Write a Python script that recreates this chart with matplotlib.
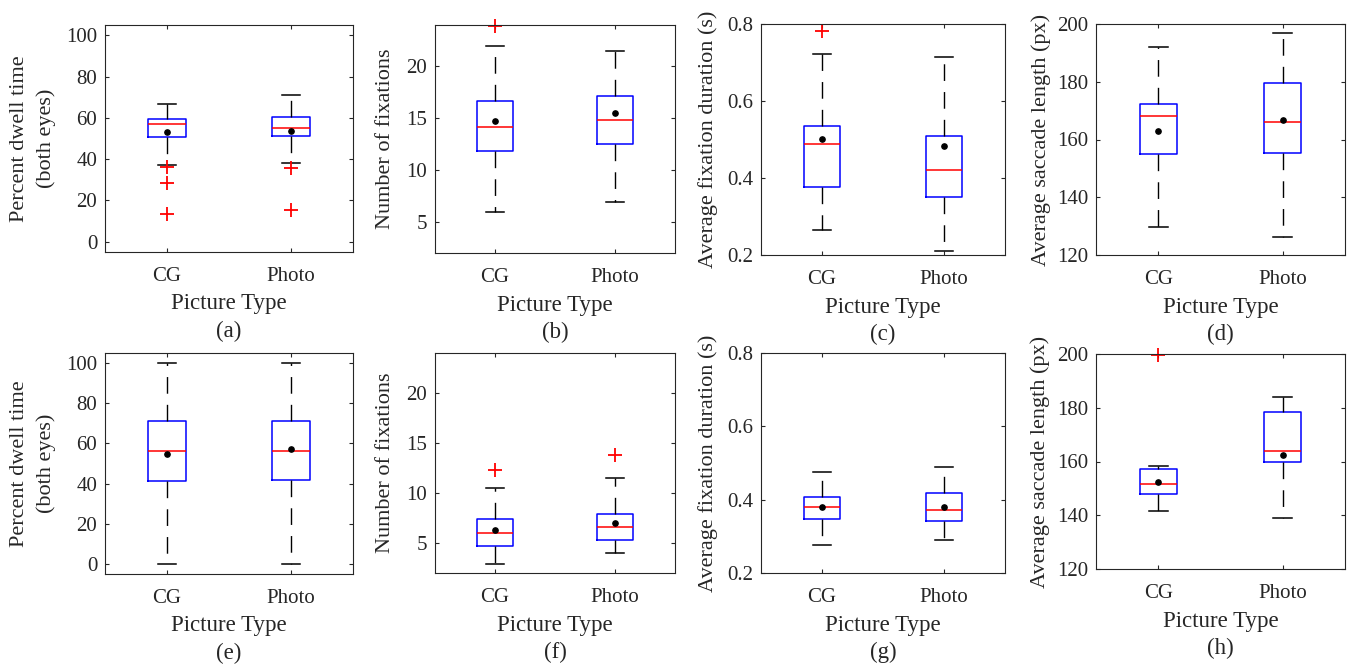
import matplotlib
matplotlib.use("Agg")
import matplotlib.pyplot as plt

plt.rcParams['font.family'] = ['Liberation Serif', 'DejaVu Serif']

categories = ["CG", "Photo"]
xlabel_text = "Picture Type"

# five-number summaries: [lower whisker, Q1, median, Q3, upper whisker]
# (a) percent dwell time, top row
a_cg = [37.4, 50.7, 57.2, 59.5, 66.8]
a_photo = [37.9, 51.4, 55.3, 60.6, 71.0]
a_means = [53.3, 53.8]
a_out_cg = [36.0, 28.4, 13.3]
a_out_photo = [35.7, 15.4]
# (b) number of fixations
b_cg = [6.0, 11.87, 14.19, 16.68, 22.0]
b_photo = [6.9, 12.55, 14.84, 17.13, 21.45]
b_means = [14.71, 15.48]
b_out_cg = [23.9]
b_out_photo = []
# (c) average fixation duration
c_cg = [0.264, 0.376, 0.488, 0.535, 0.723]
c_photo = [0.211, 0.350, 0.420, 0.508, 0.713]
c_means = [0.502, 0.484]
c_out_cg = [0.783]
c_out_photo = []
# (d) average saccade length
d_cg = [129.8, 155.0, 168.0, 172.4, 191.9]
d_photo = [126.1, 155.4, 166.1, 179.5, 197.0]
d_means = [162.8, 166.8]
d_out_cg = []
d_out_photo = []
# (e) percent dwell time, bottom row
e_cg = [0.0, 41.2, 56.4, 71.4, 100.0]
e_photo = [0.0, 41.7, 56.4, 71.1, 100.0]
e_means = [54.9, 57.2]
e_out_cg = []
e_out_photo = []
# (f) number of fixations
f_cg = [2.9, 4.70, 6.0, 7.39, 10.55]
f_photo = [4.0, 5.27, 6.6, 7.89, 11.52]
f_means = [6.26, 7.0]
f_out_cg = [12.32]
f_out_photo = [13.81]
# (g) average fixation duration
g_cg = [0.276, 0.348, 0.381, 0.406, 0.475]
g_photo = [0.290, 0.343, 0.371, 0.419, 0.490]
g_means = [0.381, 0.380]
g_out_cg = []
g_out_photo = []
# (h) average saccade length
h_cg = [141.5, 147.9, 151.8, 157.3, 158.3]
h_photo = [138.8, 159.9, 164.0, 178.3, 184.0]
h_means = [152.2, 162.35]
h_out_cg = [199.75]
h_out_photo = []

ylabel_dwell = "Percent dwell time\n(both eyes)"
ylabel_fix = "Number of fixations"
ylabel_dur = "Average fixation duration (s)"
ylabel_sac = "Average saccade length (px)"

yticks_dwell = [0, 20, 40, 60, 80, 100]
yticks_fix = [5, 10, 15, 20]
yticks_dur = [0.2, 0.4, 0.6, 0.8]
yticks_sac = [120, 140, 160, 180, 200]

W, H = 1358, 667
fig = plt.figure(figsize=(W / 100, H / 100), dpi=100)
fig.patch.set_facecolor('white')
AX = '#262626'

panels = [
    # caption, cg, photo, means, out_cg, out_photo, ylabel, yticks, ylim, axes px box, ylabel x centre px
    ("(a)", a_cg, a_photo, a_means, a_out_cg, a_out_photo, ylabel_dwell, yticks_dwell, (-5, 105), (105, 25, 353, 252), 33),
    ("(b)", b_cg, b_photo, b_means, b_out_cg, b_out_photo, ylabel_fix, yticks_fix, (2, 24), (435, 25, 675, 253), 385),
    ("(c)", c_cg, c_photo, c_means, c_out_cg, c_out_photo, ylabel_dur, yticks_dur, (0.2, 0.8), (761, 24, 1005, 255), 708),
    ("(d)", d_cg, d_photo, d_means, d_out_cg, d_out_photo, ylabel_sac, yticks_sac, (120, 200), (1096, 24, 1345, 255), 1041),
    ("(e)", e_cg, e_photo, e_means, e_out_cg, e_out_photo, ylabel_dwell, yticks_dwell, (-5, 105), (105, 353, 353, 574), 33),
    ("(f)", f_cg, f_photo, f_means, f_out_cg, f_out_photo, ylabel_fix, yticks_fix, (2, 24), (435, 353, 675, 573), 385),
    ("(g)", g_cg, g_photo, g_means, g_out_cg, g_out_photo, ylabel_dur, yticks_dur, (0.2, 0.8), (761, 353, 1005, 573), 708),
    ("(h)", h_cg, h_photo, h_means, h_out_cg, h_out_photo, ylabel_sac, yticks_sac, (120, 200), (1096, 354, 1345, 569), 1040),
]


def make_stats(vals, mean, fliers, label):
    return dict(label=label, whislo=vals[0], q1=vals[1], med=vals[2],
                q3=vals[3], whishi=vals[4], mean=mean, fliers=fliers)


for (cap, cg, ph, means, ocg, oph, ylab, yt, ylim, (x0, y0, x1, y1), ylx) in panels:
    ax = fig.add_axes([x0 / W, 1 - y1 / H, (x1 - x0) / W, (y1 - y0) / H])
    stats = [make_stats(cg, means[0], ocg, categories[0]),
             make_stats(ph, means[1], oph, categories[1])]
    res = ax.bxp(stats, positions=[1, 2], widths=0.3, capwidths=0.15,
                 showmeans=True, meanline=False, showfliers=True,
                 boxprops=dict(color='blue', lw=1.1),
                 medianprops=dict(color='red', lw=1.1),
                 whiskerprops=dict(color='black', lw=1.0, linestyle=(0, (12, 8))),
                 capprops=dict(color='black', lw=1.1),
                 flierprops=dict(marker='+', markeredgecolor='red', markersize=9.5,
                                 markeredgewidth=1.3, linestyle='none'),
                 meanprops=dict(marker='o', markerfacecolor='black',
                                markeredgecolor='black', markersize=3.8))
    for fl in res['fliers']:
        fl.set_clip_on(False)
    ax.set_xlim(0.5, 2.5)
    ax.set_ylim(*ylim)
    ax.set_yticks(yt)
    ax.set_xticks([1, 2])
    ax.set_xticklabels(categories)
    ax.tick_params(direction='in', top=True, right=True, length=3, width=0.8,
                   colors=AX, labelsize=15)
    ax.tick_params(axis='x', pad=10.5)
    ax.tick_params(axis='y', pad=5.5)
    for sp in ax.spines.values():
        sp.set_color(AX)
        sp.set_linewidth(0.8)
    ax.set_ylabel(ylab, fontsize=16, color=AX, va='center', ha='center',
                  linespacing=1.45)
    ax.yaxis.set_label_coords((ylx - x0) / (x1 - x0), 0.5)
    xc = (x0 + x1) / 2
    fig.text(xc / W, 1 - (y1 + 52) / H, xlabel_text, fontsize=16.5, color=AX,
             ha='center', va='center')
    fig.text(xc / W, 1 - (y1 + 79) / H, cap, fontsize=16.5, color=AX,
             ha='center', va='center')

fig.savefig("out.png", dpi=100, facecolor='white')
